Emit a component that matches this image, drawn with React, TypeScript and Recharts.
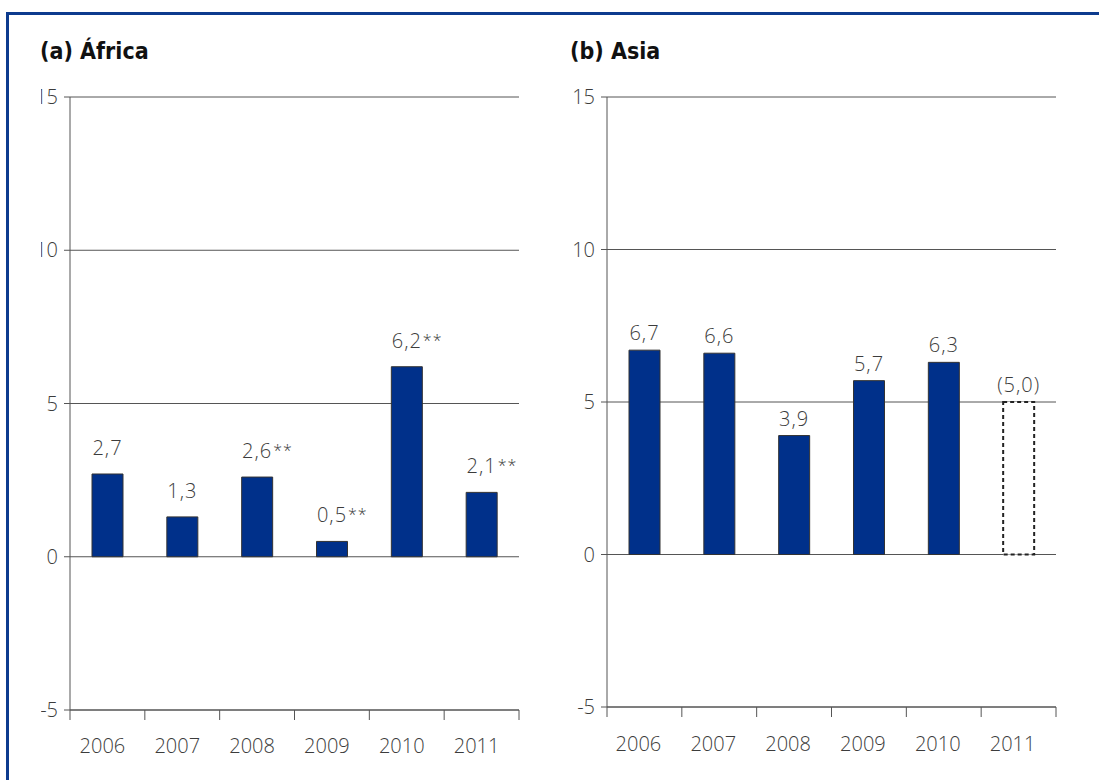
import { BarChart, Bar, XAxis, YAxis, CartesianGrid, LabelList, Cell } from 'recharts'

const years = ['2006', '2007', '2008', '2009', '2010', '2011']
const africaValues = [2.7, 1.3, 2.6, 0.5, 6.2, 2.1]
const africaMarks = ['', '', '**', '**', '**', '**']
const asiaValues = [6.7, 6.6, 3.9, 5.7, 6.3, 5.0]
const asiaProjected = [false, false, false, false, false, true]
const yTicks = [-5, 0, 5, 10, 15]

const FONT = '"Open Sans", "DejaVu Sans", sans-serif'
const TITLE_FONT = '"DejaVu Sans", sans-serif'
const BLUE = '#00308a'
const LINE = '#555'
const TEXT = '#3c3c3c'

const fmt = (v: number) => v.toFixed(1).replace('.', ',')

const africaRows = years.map((year, i) => ({ year, value: africaValues[i] }))
const asiaRows = years.map((year, i) => ({ year, value: asiaValues[i] }))

const txt = { fill: TEXT, fontSize: 20, fontWeight: 300, fontFamily: FONT, letterSpacing: 1 }

// x ticks sit on the category edges, labels in the middle
const makeTick = (band: number, dx: number, dy: number) => (props: any) => {
  const { x, y, payload, index } = props
  const half = band / 2
  return (
    <g>
      <line x1={x - half} y1={y} x2={x - half} y2={y + 10} stroke={LINE} />
      {index === years.length - 1 && (
        <line x1={x + half} y1={y} x2={x + half} y2={y + 10} stroke={LINE} />
      )}
      <text x={x + dx} y={y + dy} textAnchor="middle" {...txt} letterSpacing={0}>
        {payload.value}
      </text>
    </g>
  )
}

const africaLabel = (props: any) => {
  const { x, y, width, index } = props
  const cx = x + width / 2
  const mark = africaMarks[index]
  return (
    <g>
      <text x={cx} y={y - 19} textAnchor="middle" {...txt}>
        {fmt(africaValues[index])}
      </text>
      {mark && (
        <text x={cx + 16} y={y - 21} {...txt} fontSize={16}>
          {mark}
        </text>
      )}
    </g>
  )
}

const asiaLabel = (props: any) => {
  const { x, y, width, index } = props
  const cx = x + width / 2
  const s = asiaProjected[index] ? `(${fmt(asiaValues[index])})` : fmt(asiaValues[index])
  return (
    <text x={cx} y={y - 10} textAnchor="middle" {...txt}>
      {s}
    </text>
  )
}

function Title({ text, left }: { text: string; left: number }) {
  return (
    <div
      style={{
        position: 'absolute',
        left,
        top: 40,
        fontFamily: TITLE_FONT,
        fontStretch: 'condensed',
        fontWeight: 700,
        fontSize: 23,
        lineHeight: 1,
        color: '#111',
      }}
    >
      {text}
    </div>
  )
}

export default function App() {
  const band = 449 / 6
  return (
    <div style={{ position: 'absolute', left: 0, top: 0, width: 1099, height: 780, background: '#fff', overflow: 'hidden' }}>
      <div
        style={{
          position: 'absolute',
          left: 6,
          top: 12,
          width: 1200,
          height: 900,
          borderTop: '3px solid #0d3b8e',
          borderLeft: '3px solid #0d3b8e',
        }}
      />
      <Title text="(a) África" left={40} />
      <Title text="(b) Asia" left={570} />

      {/* Africa, clipped on the left like the source */}
      <div style={{ position: 'absolute', left: 41, top: 0, width: 500, height: 780, overflow: 'hidden' }}>
        <div style={{ position: 'absolute', left: -41, top: 0 }}>
          <BarChart width={560} height={780} data={africaRows} margin={{ top: 97, right: 41, bottom: 30, left: 10 }}>
            <CartesianGrid vertical={false} stroke={LINE} />
            <XAxis
              dataKey="year"
              interval={0}
              height={40}
              tickSize={0}
              tickMargin={0}
              tickLine={false}
              axisLine={{ stroke: LINE }}
              tick={makeTick(band, -5, 43)}
            />
            <YAxis
              domain={[-5, 15]}
              ticks={yTicks}
              width={60}
              tickSize={6}
              tickMargin={6}
              axisLine={{ stroke: LINE }}
              tickLine={{ stroke: LINE }}
              tick={{ ...txt, letterSpacing: 0 }}
            />
            <YAxis yAxisId="r" orientation="right" domain={[-5, 15]} ticks={yTicks} width={0} tick={false} tickLine={false} axisLine={{ stroke: LINE }} />
            <Bar dataKey="value" fill={BLUE} stroke="#333" strokeWidth={1} barSize={31} isAnimationActive={false}>
              <LabelList dataKey="value" content={africaLabel} />
            </Bar>
          </BarChart>
        </div>
      </div>

      {/* Asia */}
      <div style={{ position: 'absolute', left: 540, top: 0 }}>
        <BarChart width={559} height={780} data={asiaRows} margin={{ top: 97, right: 43, bottom: 33, left: 7 }}>
          <CartesianGrid vertical={false} stroke={LINE} />
          <XAxis
            dataKey="year"
            interval={0}
            height={40}
            tickSize={0}
            tickMargin={0}
            tickLine={false}
            axisLine={{ stroke: LINE }}
            tick={makeTick(band, -6, 44)}
          />
          <YAxis
            domain={[-5, 15]}
            ticks={yTicks}
            width={60}
            tickSize={6}
            tickMargin={6}
            axisLine={{ stroke: LINE }}
            tickLine={{ stroke: LINE }}
            tick={{ ...txt, letterSpacing: 0 }}
          />
          <YAxis yAxisId="r" orientation="right" domain={[-5, 15]} ticks={yTicks} width={0} tick={false} tickLine={false} axisLine={{ stroke: LINE }} />
          <Bar dataKey="value" fill={BLUE} stroke="#333" strokeWidth={1} barSize={31} isAnimationActive={false}>
            {asiaRows.map((r, i) =>
              asiaProjected[i] ? (
                <Cell key={r.year} fill="#fff" stroke="#222" strokeWidth={2} strokeDasharray="4 3" />
              ) : (
                <Cell key={r.year} fill={BLUE} />
              )
            )}
            <LabelList dataKey="value" content={asiaLabel} />
          </Bar>
        </BarChart>
      </div>
    </div>
  )
}
